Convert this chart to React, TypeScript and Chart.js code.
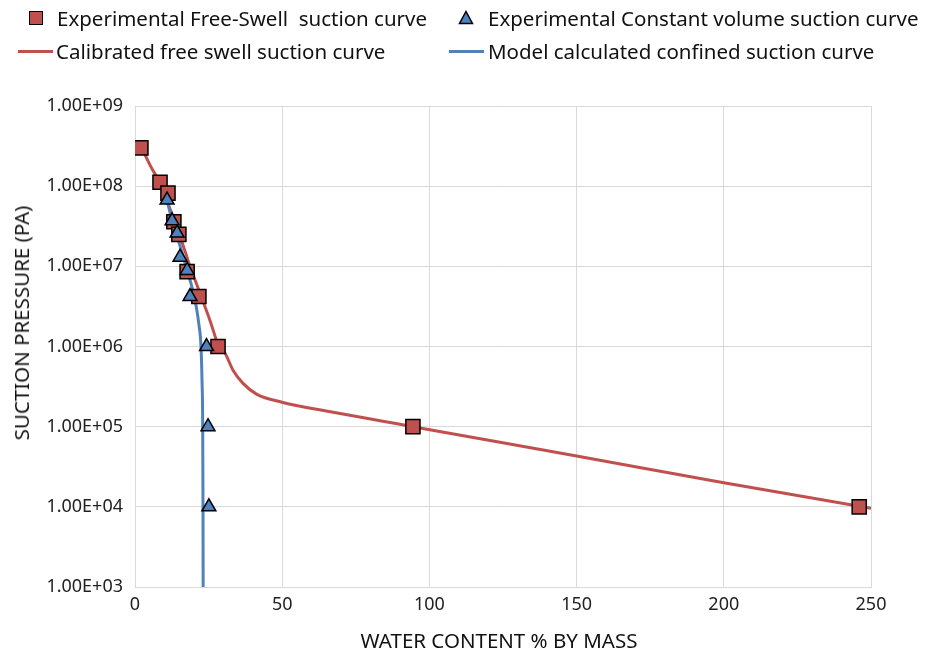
import React, { useEffect, useRef } from "react";
import { Chart, registerables } from "chart.js";

Chart.register(...registerables);

// Experimental free-swell suction (squares)
const freeSwellX = [2.0, 8.5, 11.2, 13.2, 14.9, 17.7, 21.7, 28.2, 94.4, 246];
const freeSwellY = [3.0e8, 1.12e8, 8.2e7, 3.6e7, 2.5e7, 8.6e6, 4.2e6, 1.0e6, 1.0e5, 1.0e4];

// Experimental constant volume suction (triangles)
const constVolX = [10.9, 12.6, 14.3, 15.3, 17.7, 18.7, 24.3, 24.8, 25.1];
const constVolY = [6.7e7, 3.7e7, 2.6e7, 1.3e7, 8.9e6, 4.2e6, 1.0e6, 1.0e5, 1.0e4];

// Calibrated free swell suction curve
const calibX = [2.0, 5.1, 8.5, 11.9, 15.3, 18.7, 22.1, 25.5, 28.5, 30.6, 33.3, 36.7, 41.4, 49.9, 67.3, 84.2, 94.4, 150, 200, 250];
const calibY = [3.17e8, 1.83e8, 1.09e8, 5.2e7, 2.38e7, 1.0e7, 4.6e6, 2.1e6, 1.0e6, 8.25e5, 5.06e5, 3.47e5, 2.53e5, 2.02e5, 1.51e5, 1.17e5, 1.0e5, 4.3e4, 2.0e4, 9.6e3];

// Model calculated confined suction curve
const modelX = [10.87, 12.57, 14.27, 15.96, 17.66, 19.36, 20.72, 21.74, 22.42, 22.76, 23.0, 23.1, 23.15];
const modelY = [6.7e7, 3.78e7, 2.38e7, 1.5e7, 8.97e6, 5.5e6, 3.28e6, 1.85e6, 1.0e6, 3.8e5, 1.0e5, 1.0e4, 1.0e3];

const yTickValues = [1e3, 1e4, 1e5, 1e6, 1e7, 1e8, 1e9];
const yTickLabels = ["1.00E+03", "1.00E+04", "1.00E+05", "1.00E+06", "1.00E+07", "1.00E+08", "1.00E+09"];
const xTickValues = [0, 50, 100, 150, 200, 250];

const RED = "#c0504d";
const BLUE = "#4f81bd";
const GRID = "#d9d9d9";
const FONT = "'Noto Sans', sans-serif";

const zip = (xs: number[], ys: number[]) => xs.map((x, i) => ({ x, y: ys[i] }));

export default function App() {
  const ref = useRef<HTMLCanvasElement | null>(null);

  useEffect(() => {
    document.body.style.margin = "0";
    if (!ref.current) return;
    const chart = new Chart(ref.current, {
      type: "scatter",
      data: {
        datasets: [
          {
            label: "Experimental Constant volume suction curve",
            data: zip(constVolX, constVolY),
            pointStyle: "triangle",
            pointRadius: 8,
            backgroundColor: BLUE,
            borderColor: "#000",
            borderWidth: 1.5,
            showLine: false,
            order: 0,
          },
          {
            label: "Experimental Free-Swell  suction curve",
            data: zip(freeSwellX, freeSwellY),
            pointStyle: "rect",
            pointRadius: 10,
            backgroundColor: RED,
            borderColor: "#000",
            borderWidth: 1.5,
            showLine: false,
            order: 1,
          },
          {
            label: "Model calculated confined suction curve",
            data: zip(modelX, modelY),
            showLine: true,
            pointRadius: 0,
            borderColor: BLUE,
            borderWidth: 3,
            cubicInterpolationMode: "monotone",
            order: 2,
          },
          {
            label: "Calibrated free swell suction curve",
            data: zip(calibX, calibY),
            showLine: true,
            pointRadius: 0,
            borderColor: RED,
            borderWidth: 3,
            cubicInterpolationMode: "monotone",
            order: 3,
          },
        ],
      },
      options: {
        animation: false,
        responsive: false,
        devicePixelRatio: 1,
        events: [],
        layout: { padding: { top: 106, right: 62, left: 0, bottom: 0 } },
        plugins: { legend: { display: false }, tooltip: { enabled: false } },
        scales: {
          x: {
            type: "linear",
            min: 0,
            max: 250,
            afterFit: (s: any) => {
              s.height = 66;
            },
            afterBuildTicks: (s: any) => {
              s.ticks = xTickValues.map((v) => ({ value: v }));
            },
            grid: { color: GRID, drawTicks: false, lineWidth: 1 },
            border: { color: GRID },
            ticks: {
              padding: 7,
              color: "#222",
              font: { family: FONT, size: 18 },
            },
          },
          y: {
            type: "logarithmic",
            min: 1e3,
            max: 1e9,
            afterFit: (s: any) => {
              s.width = 135;
            },
            afterBuildTicks: (s: any) => {
              s.ticks = yTickValues.map((v) => ({ value: v }));
            },
            grid: { color: GRID, drawTicks: false, lineWidth: 1 },
            border: { color: GRID },
            ticks: {
              padding: 12,
              color: "#222",
              font: { family: FONT, size: 18 },
              callback: (v: any) => {
                const i = yTickValues.indexOf(Number(v));
                return i >= 0 ? yTickLabels[i] : "";
              },
            },
          },
        },
      },
    } as any);
    return () => chart.destroy();
  }, []);

  const legendText: React.CSSProperties = {
    position: "absolute",
    fontFamily: FONT,
    fontSize: 20.5,
    color: "#111",
    whiteSpace: "pre",
    lineHeight: "24px",
  };

  return (
    <div style={{ position: "relative", width: 933, height: 653, background: "#fff", overflow: "hidden" }}>
      <canvas ref={ref} width={933} height={653} style={{ display: "block", width: 933, height: 653 }} />
      {/* Legend row 1 */}
      <div
        style={{
          position: "absolute",
          left: 29,
          top: 11,
          width: 14,
          height: 14,
          background: RED,
          border: "1.5px solid #000",
          boxSizing: "border-box",
        }}
      />
      <div style={{ ...legendText, left: 57, top: 6 }}>Experimental Free-Swell  suction curve</div>
      <svg style={{ position: "absolute", left: 458, top: 10 }} width={16} height={15}>
        <polygon points="8,1.5 14.5,13.5 1.5,13.5" fill={BLUE} stroke="#000" strokeWidth={1.5} />
      </svg>
      <div style={{ ...legendText, left: 488, top: 6 }}>Experimental Constant volume suction curve</div>
      {/* Legend row 2 */}
      <div style={{ position: "absolute", left: 18, top: 49.5, width: 35, height: 3, background: RED }} />
      <div style={{ ...legendText, left: 56, top: 39 }}>Calibrated free swell suction curve</div>
      <div style={{ position: "absolute", left: 449, top: 49.5, width: 35, height: 3, background: BLUE }} />
      <div style={{ ...legendText, left: 488, top: 39 }}>Model calculated confined suction curve</div>
      {/* Axis titles */}
      <div
        style={{
          position: "absolute",
          left: 499,
          top: 640,
          transform: "translate(-50%, -50%)",
          fontFamily: FONT,
          fontSize: 20.5,
          color: "#111",
          whiteSpace: "nowrap",
        }}
      >
        WATER CONTENT % BY MASS
      </div>
      <div
        style={{
          position: "absolute",
          left: 21,
          top: 323,
          transform: "translate(-50%, -50%) rotate(-90deg)",
          fontFamily: FONT,
          fontSize: 20.5,
          color: "#111",
          whiteSpace: "nowrap",
        }}
      >
        SUCTION PRESSURE (PA)
      </div>
    </div>
  );
}
